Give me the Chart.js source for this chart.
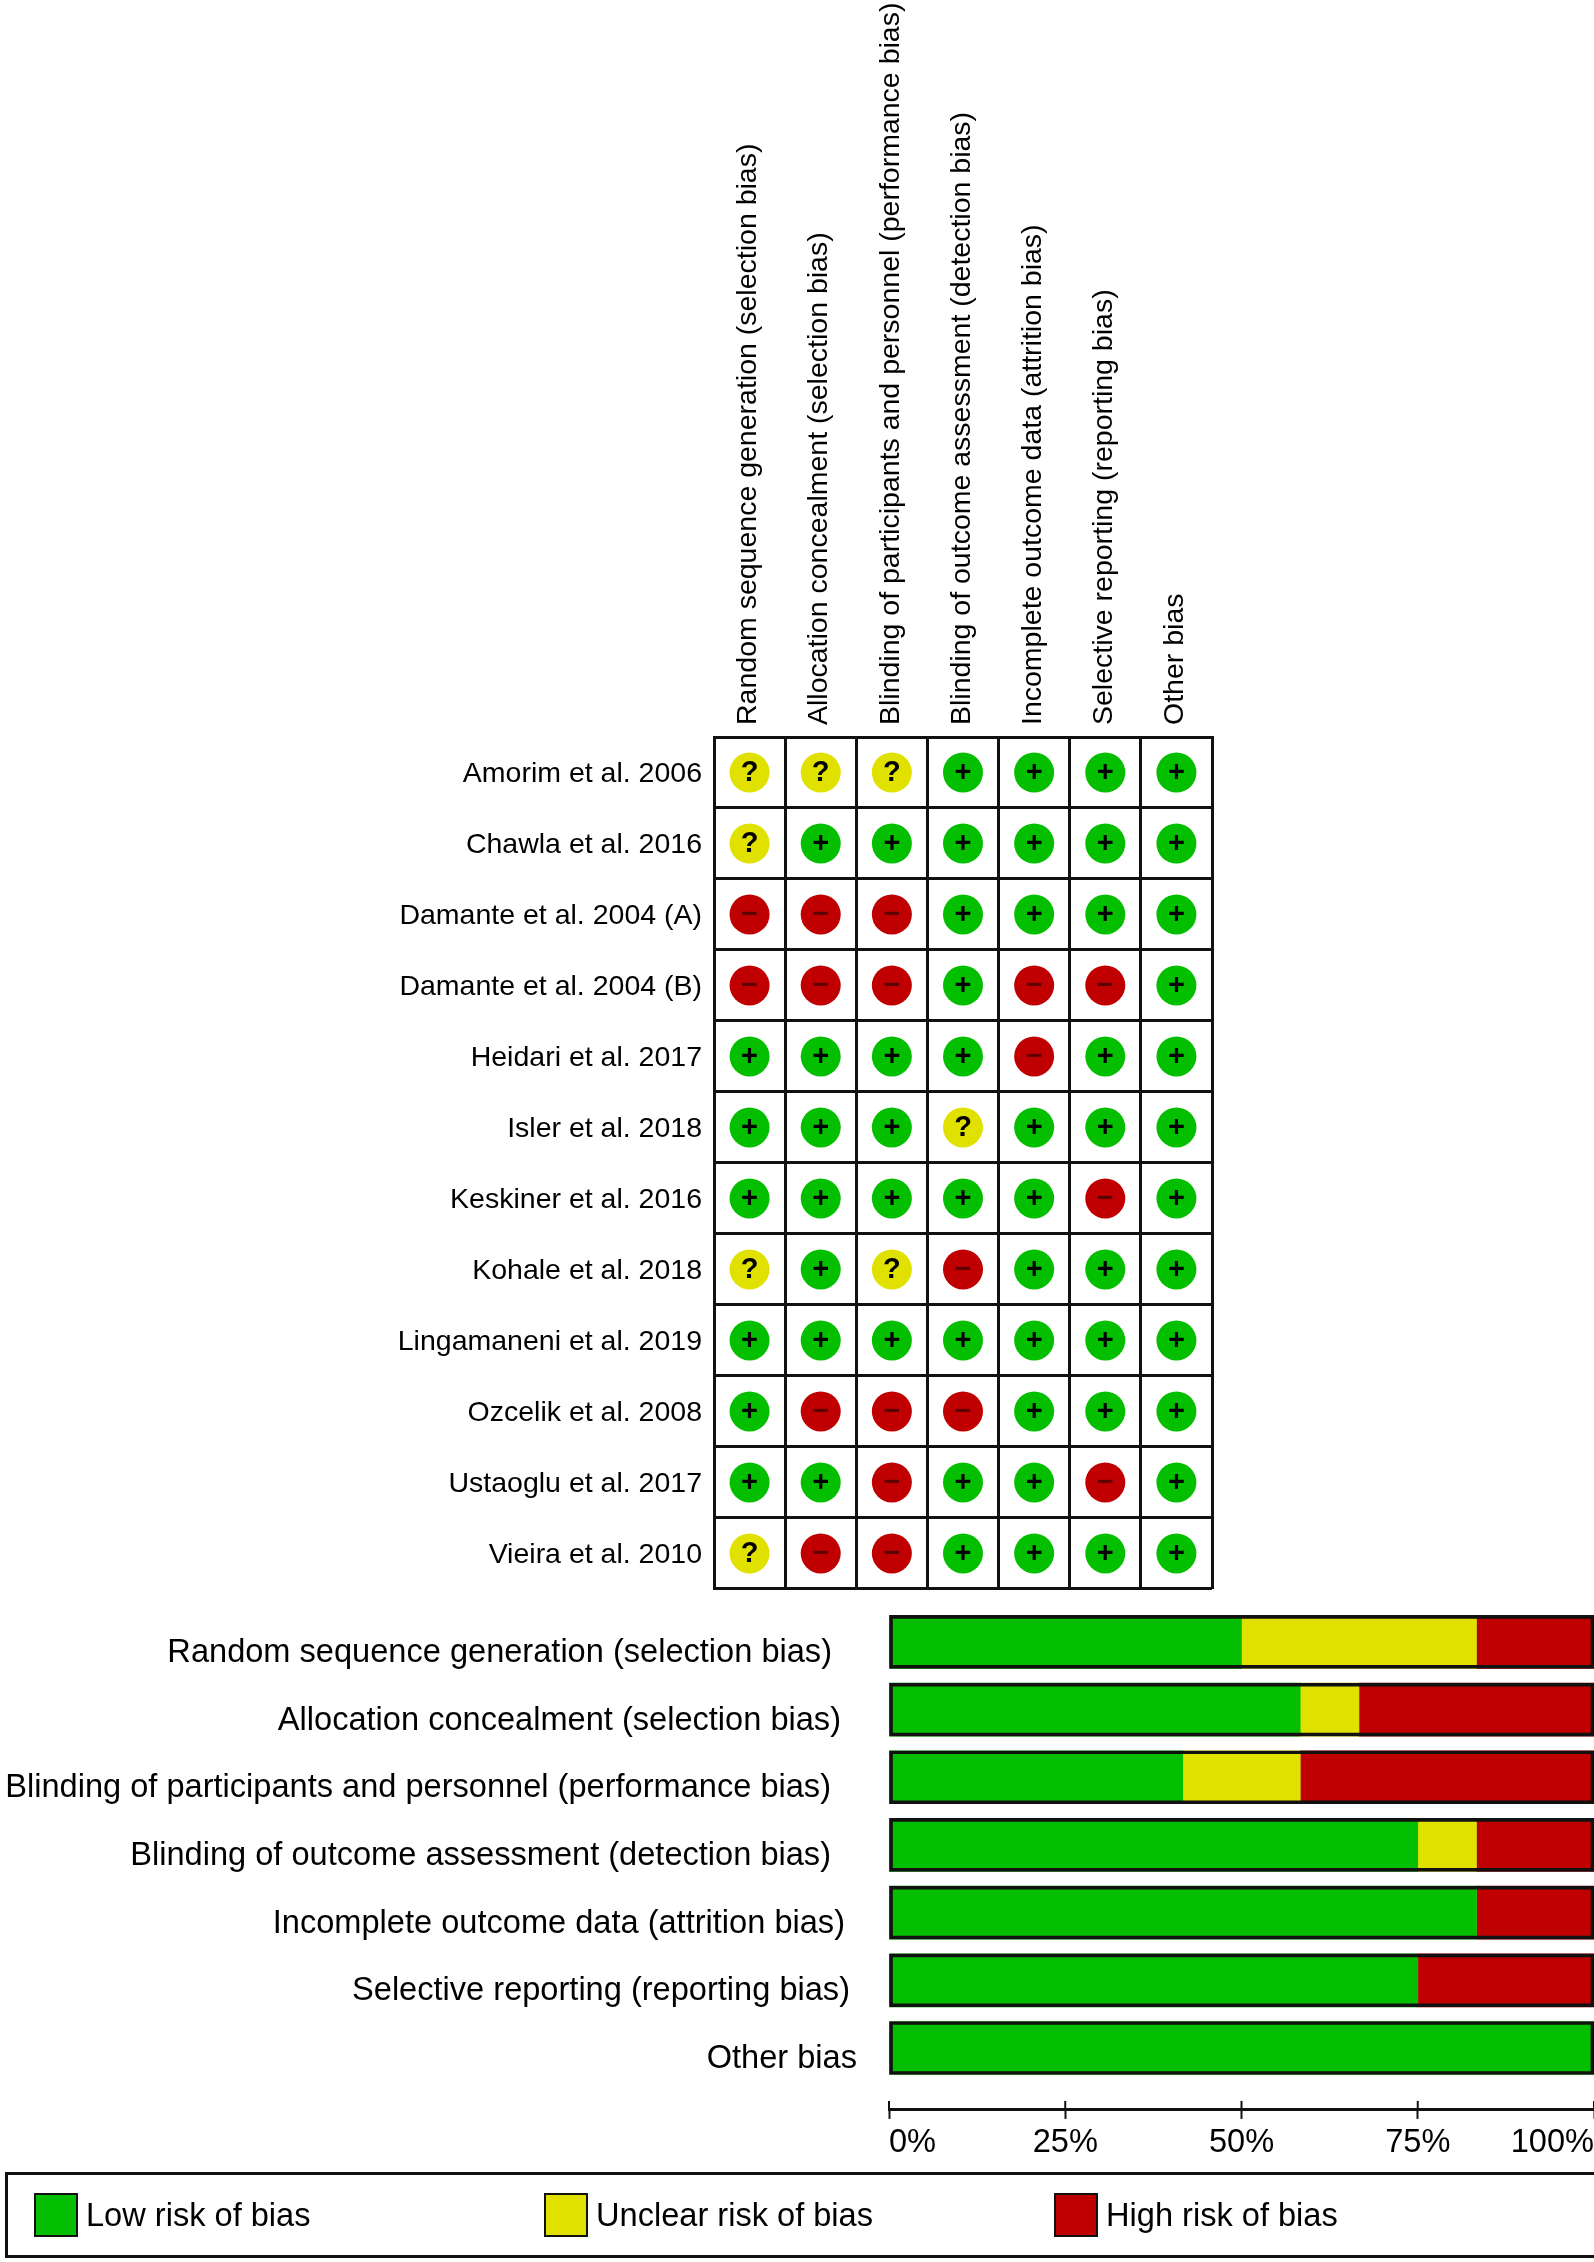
<!DOCTYPE html>
<html>
<head>
<meta charset="utf-8">
<title>Risk of bias</title>
<script src="https://cdn.jsdelivr.net/npm/chart.js@4"></script>
<style>
    html, body { margin: 0; padding: 0; background: #fff; }
    #page { position: relative; width: 1594px; height: 2262px; overflow: hidden; font-family: "Liberation Sans", Arial, sans-serif; color: #000; }
    #summaryWrap { position: absolute; left: 0; top: 0; }
    #graphWrap { position: absolute; left: 0; top: 1600px; }
    #legend { position: absolute; left: 5px; top: 2172px; width: 1589px; height: 80px; border: 3px solid #111; border-right: 0; }
    .key { position: absolute; top: 0; height: 80px; display: flex; align-items: center; font-size: 32.6px; white-space: nowrap; }
    .swatch { width: 40px; height: 40px; border: 2px solid #111; margin-right: 8px; }
</style>
</head>
<body>
<div id="page">
    <div id="summaryWrap"><canvas id="summaryChart"></canvas></div>
    <div id="graphWrap"><canvas id="graphChart"></canvas></div>
    <div id="legend"></div>
</div>
<script>
const domains = [
    'Random sequence generation (selection bias)',
    'Allocation concealment (selection bias)',
    'Blinding of participants and personnel (performance bias)',
    'Blinding of outcome assessment (detection bias)',
    'Incomplete outcome data (attrition bias)',
    'Selective reporting (reporting bias)',
    'Other bias'
];
const studies = [
    'Amorim et al. 2006', 'Chawla et al. 2016', 'Damante et al. 2004 (A)', 'Damante et al. 2004 (B)',
    'Heidari et al. 2017', 'Isler et al. 2018', 'Keskiner et al. 2016', 'Kohale et al. 2018',
    'Lingamaneni et al. 2019', 'Ozcelik et al. 2008', 'Ustaoglu et al. 2017', 'Vieira et al. 2010'
];
// one string per study, one sign per domain
const judgements = [
    '???++++',
    '?++++++',
    '---++++',
    '---+--+',
    '++++-++',
    '+++?+++',
    '+++++-+',
    '?+?-+++',
    '+++++++',
    '+---+++',
    '++-++-+',
    '?--++++'
];
const riskNames = ['Low risk of bias', 'Unclear risk of bias', 'High risk of bias'];
const riskSigns = ['+', '?', '-'];
const lowPct = [50, 58.33, 41.67, 75, 83.33, 75, 100];
const unclearPct = [33.33, 8.33, 16.67, 8.33, 0, 0, 0];
const highPct = [16.67, 33.33, 41.67, 16.67, 16.67, 25, 0];
const axisTicks = [0, 25, 50, 75, 100];

const riskColors = ['#04bf00', '#e1e100', '#c00000'];
const glyphs = { '+': '+', '?': '?', '-': '\u2212' };
const glyphColors = { '+': '#000', '?': '#000', '-': '#5c0000' };
const fontFamily = '"Liberation Sans", Arial, sans-serif';
// the labels of the lower chart do not line up on the right in the original
const labelRightEdge = [832, 841, 831, 831, 845, 850, 857];
const keyLeft = [26, 536, 1046];

Chart.defaults.font.family = fontFamily;
Chart.defaults.color = '#000';
Chart.defaults.animation = false;
Chart.defaults.responsive = false;
Chart.defaults.plugins.legend.display = false;
Chart.defaults.plugins.tooltip.enabled = false;

function sizeCanvas(id, w, h) {
    const c = document.getElementById(id);
    c.width = w;
    c.height = h;
    c.style.width = w + 'px';
    c.style.height = h + 'px';
    return c.getContext('2d');
}

// points of one judgement, read from the study rows
function pointsFor(sign) {
    const pts = [];
    studies.forEach((study, r) => {
        domains.forEach((domain, c) => {
            if (judgements[r][c] === sign) pts.push({ x: domain, y: study });
        });
    });
    return pts;
}

// puts the +, ? and - on top of the dots
const glyphPlugin = {
    id: 'glyphPlugin',
    afterDatasetsDraw(chart) {
        const ctx = chart.ctx;
        ctx.save();
        ctx.textAlign = 'center';
        ctx.textBaseline = 'middle';
        ctx.font = 'bold 29px ' + fontFamily;
        chart.data.datasets.forEach((ds, i) => {
            ctx.fillStyle = glyphColors[ds.sign];
            chart.getDatasetMeta(i).data.forEach(pt => {
                ctx.fillText(glyphs[ds.sign], pt.x, pt.y + 1);
            });
        });
        ctx.restore();
    }
};

new Chart(sizeCanvas('summaryChart', 1594, 1618), {
    type: 'scatter',
    data: {
        datasets: riskSigns.map((sign, i) => ({
            label: riskNames[i],
            sign: sign,
            data: pointsFor(sign),
            pointRadius: 20,
            pointBorderWidth: 0,
            pointBackgroundColor: riskColors[i]
        }))
    },
    options: {
        layout: { padding: { right: 382 } },
        scales: {
            x: {
                type: 'category',
                position: 'top',
                labels: domains,
                offset: true,
                grid: { offset: true, color: '#111', lineWidth: 3, drawTicks: false },
                border: { color: '#111', width: 3 },
                ticks: { autoSkip: false, minRotation: 90, maxRotation: 90, padding: 12, labelOffset: 33, font: { size: 28.5 } },
                afterFit(scale) { scale.height = 737; }
            },
            y: {
                type: 'category',
                labels: studies,
                offset: true,
                grid: { offset: true, color: '#111', lineWidth: 3, drawTicks: false },
                border: { color: '#111', width: 3 },
                ticks: { autoSkip: false, padding: 12, labelOffset: 2, font: { size: 28.5 } },
                afterFit(scale) { scale.width = 714; }
            }
        }
    },
    plugins: [glyphPlugin]
});

// category names of the bars and the upper half of the axis ticks
const graphPlugin = {
    id: 'graphPlugin',
    afterDraw(chart) {
        const ctx = chart.ctx;
        const xs = chart.scales.x;
        const ys = chart.scales.y;
        ctx.save();
        ctx.font = '32.6px ' + fontFamily;
        ctx.fillStyle = '#000';
        ctx.textAlign = 'right';
        ctx.textBaseline = 'middle';
        domains.forEach((name, i) => {
            ctx.fillText(name, labelRightEdge[i], ys.getPixelForTick(i) + 11);
        });
        ctx.strokeStyle = '#111';
        ctx.lineWidth = 2;
        axisTicks.forEach(t => {
            const px = xs.getPixelForValue(t);
            ctx.beginPath();
            ctx.moveTo(px, xs.top);
            ctx.lineTo(px, xs.top - 9);
            ctx.stroke();
        });
        ctx.restore();
    }
};

const barSeries = [lowPct, unclearPct, highPct];

new Chart(sizeCanvas('graphChart', 1599, 570), {
    type: 'bar',
    data: {
        labels: domains,
        datasets: barSeries.map((values, i) => ({
            label: riskNames[i],
            data: values,
            stack: 'risk',
            order: 1,
            backgroundColor: riskColors[i],
            borderWidth: 0
        })).concat([{
            label: 'outline',
            data: domains.map(() => 100),
            stack: 'frame',
            order: 0,
            backgroundColor: 'rgba(0,0,0,0)',
            borderColor: '#111',
            borderWidth: 3,
            borderSkipped: false
        }])
    },
    options: {
        indexAxis: 'y',
        grouped: false,
        barThickness: 53,
        layout: { padding: { top: 8, right: 1.5, bottom: 2 } },
        scales: {
            x: {
                stacked: true,
                min: 0,
                max: 100,
                weight: 1,
                afterBuildTicks(scale) { scale.ticks = axisTicks.map(v => ({ value: v })); },
                grid: { drawOnChartArea: false, tickLength: 9, tickColor: '#111', tickWidth: 2 },
                border: { color: '#111', width: 3 },
                ticks: { align: 'inner', padding: 5, font: { size: 32.6 }, callback: v => v + '%' }
            },
            // empty axis: only keeps the real one away from the bars
            gap: {
                axis: 'x',
                position: 'bottom',
                weight: 0,
                grid: { display: false },
                border: { display: false },
                ticks: { display: false },
                afterFit(scale) { scale.height = 28; }
            },
            y: {
                stacked: true,
                grid: { display: false },
                border: { display: false },
                ticks: { display: false },
                afterFit(scale) { scale.width = 889; }
            }
        }
    },
    plugins: [graphPlugin]
});

const legend = document.getElementById('legend');
riskNames.forEach((name, i) => {
    const key = document.createElement('div');
    key.className = 'key';
    key.style.left = keyLeft[i] + 'px';
    key.innerHTML = '<div class="swatch" style="background:' + riskColors[i] + '"></div>' + name;
    legend.appendChild(key);
});
</script>
</body>
</html>
